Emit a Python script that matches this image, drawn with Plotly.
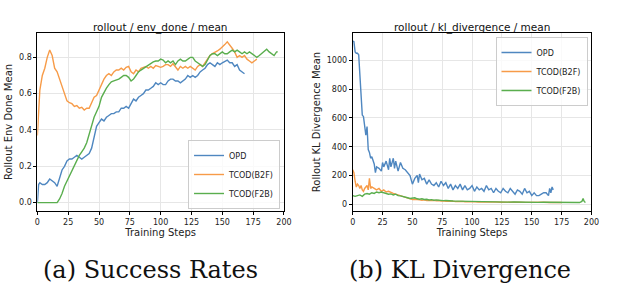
import plotly.graph_objects as go

# ---------------- data: success rate (env_done mean) ----------------
opd_sr_x = [0, 1, 2, 4, 6, 8, 10, 12, 14, 16, 18, 20, 22, 24, 26, 28, 30, 32, 34, 36, 38, 40, 42, 44, 46, 48, 50,
            52, 54, 56, 58, 60, 62, 64, 66, 68, 70, 72, 74, 76, 78, 80, 82, 84, 86, 88, 90, 92, 94, 96, 98, 100,
            102, 104, 106, 108, 110, 112, 114, 116, 118, 120, 122, 124, 126, 128, 130, 132, 134, 136, 138, 140,
            142, 144, 146, 148, 150, 152, 154, 156, 158, 160, 162, 164, 166, 168]
opd_sr_y = [0.0, 0.10, 0.11, 0.10, 0.10, 0.11, 0.13, 0.12, 0.11, 0.09, 0.14, 0.18, 0.20, 0.23, 0.24, 0.24, 0.25,
            0.26, 0.25, 0.24, 0.25, 0.26, 0.27, 0.30, 0.36, 0.42, 0.44, 0.46, 0.45, 0.47, 0.48, 0.49, 0.49, 0.50,
            0.50, 0.52, 0.52, 0.53, 0.52, 0.55, 0.57, 0.56, 0.58, 0.59, 0.60, 0.62, 0.62, 0.63, 0.64, 0.66, 0.65,
            0.66, 0.65, 0.65, 0.67, 0.68, 0.68, 0.67, 0.67, 0.66, 0.67, 0.68, 0.70, 0.69, 0.70, 0.69, 0.70, 0.72,
            0.73, 0.74, 0.76, 0.77, 0.76, 0.75, 0.77, 0.76, 0.77, 0.78, 0.785, 0.77, 0.77, 0.75, 0.76, 0.73,
            0.72, 0.71]

b2f_sr_x = [0, 1, 2, 4, 6, 8, 10, 12, 14, 16, 18, 20, 22, 24, 26, 28, 30, 32, 34, 36, 38, 40, 42, 44, 46, 48, 50,
            52, 54, 56, 58, 60, 62, 64, 66, 68, 70, 72, 74, 76, 78, 80, 82, 84, 86, 88, 90, 92, 94, 96, 98, 100,
            102, 104, 106, 108, 110, 112, 114, 116, 118, 120, 122, 124, 126, 128, 130, 132, 134, 136, 138, 140,
            142, 144, 146, 148, 150, 152, 154, 156, 158, 160, 162, 164, 166, 168, 170, 172, 174, 176, 178]
b2f_sr_y = [0.37, 0.52, 0.62, 0.70, 0.74, 0.80, 0.84, 0.81, 0.74, 0.72, 0.68, 0.65, 0.61, 0.56, 0.55, 0.545, 0.53,
            0.535, 0.52, 0.525, 0.51, 0.52, 0.52, 0.55, 0.58, 0.59, 0.62, 0.65, 0.68, 0.70, 0.71, 0.70, 0.72, 0.73,
            0.73, 0.74, 0.73, 0.745, 0.75, 0.72, 0.71, 0.73, 0.72, 0.74, 0.745, 0.75, 0.74, 0.75, 0.74, 0.755,
            0.75, 0.745, 0.75, 0.76, 0.76, 0.75, 0.765, 0.745, 0.73, 0.75, 0.74, 0.75, 0.74, 0.75, 0.74, 0.73,
            0.75, 0.76, 0.75, 0.77, 0.79, 0.81, 0.82, 0.83, 0.835, 0.845, 0.855, 0.87, 0.885, 0.87, 0.85, 0.83,
            0.80, 0.81, 0.80, 0.81, 0.79, 0.78, 0.77, 0.78, 0.79]

f2b_sr_x = [0, 16, 18, 20, 22, 24, 26, 28, 30, 32, 34, 36, 38, 40, 42, 44, 46, 48, 50, 52, 54, 56, 58, 60, 62,
            64, 66, 68, 70, 72, 74, 76, 78, 80, 82, 84, 86, 88, 90, 92, 94, 96, 98, 100, 102, 104, 106, 108, 110,
            112, 114, 116, 118, 120, 122, 124, 126, 128, 130, 132, 134, 136, 138, 140, 142, 144, 146, 148, 150,
            152, 154, 156, 158, 160, 162, 164, 166, 168, 170, 172, 174, 176, 178, 180, 182, 184, 186, 188, 190,
            192, 194, 195]
f2b_sr_y = [0.0, 0.0, 0.02, 0.05, 0.09, 0.12, 0.14, 0.17, 0.20, 0.23, 0.26, 0.28, 0.30, 0.33, 0.38, 0.43, 0.47,
            0.50, 0.53, 0.58, 0.61, 0.63, 0.65, 0.665, 0.67, 0.675, 0.68, 0.69, 0.70, 0.70, 0.69, 0.67, 0.68,
            0.70, 0.72, 0.73, 0.74, 0.75, 0.76, 0.77, 0.775, 0.78, 0.78, 0.79, 0.785, 0.77, 0.78, 0.77, 0.78,
            0.76, 0.78, 0.79, 0.78, 0.78, 0.79, 0.80, 0.80, 0.78, 0.77, 0.76, 0.75, 0.76, 0.79, 0.81, 0.82, 0.82,
            0.81, 0.82, 0.83, 0.82, 0.82, 0.83, 0.84, 0.83, 0.84, 0.83, 0.82, 0.83, 0.82, 0.83, 0.82, 0.81, 0.80,
            0.81, 0.82, 0.83, 0.845, 0.83, 0.82, 0.81, 0.83, 0.83]

# ---------------- data: KL divergence mean ----------------
opd_kl_x = [0, 1, 2, 3, 4, 5, 6, 7, 8, 9, 10, 11, 12, 13, 14, 15, 16, 17, 18, 19, 20, 22, 24, 25, 26, 28, 30, 31,
            32, 34, 35, 36, 38, 40, 42, 44, 46, 48, 50, 52, 54, 55, 56, 58, 60, 62, 64, 66, 68, 70, 72, 74, 76,
            78, 80, 82, 84, 86, 88, 90, 92, 94, 96, 98, 100, 102, 104, 106, 108, 110, 112, 114, 116, 118, 120,
            122, 124, 126, 128, 130, 132, 134, 136, 138, 140, 142, 144, 146, 148, 150, 152, 154, 156, 158, 160,
            162, 164, 165, 166, 167, 168]
opd_kl_y = [1135, 1130, 1060, 1050, 1050, 1040, 900, 750, 620, 610, 550, 480, 540, 380, 360, 320, 330, 300, 280,
            220, 260, 250, 230, 290, 260, 300, 240, 320, 260, 320, 250, 300, 230, 290, 250, 240, 220, 200, 140,
            180, 200, 150, 210, 170, 180, 140, 170, 140, 130, 150, 120, 160, 130, 150, 110, 140, 100, 130, 110,
            140, 100, 130, 100, 110, 130, 90, 120, 100, 110, 90, 130, 100, 110, 80, 110, 90, 80, 110, 90, 80,
            110, 90, 70, 100, 90, 70, 110, 80, 90, 60, 80, 60, 60, 70, 80, 80, 60, 110, 80, 120, 100]

b2f_kl_x = [0, 1, 2, 3, 4, 5, 6, 7, 8, 9, 10, 11, 12, 13, 14, 15, 16, 18, 20, 22, 24, 26, 28, 30, 32, 34, 36, 38,
            40, 42, 44, 46, 48, 50, 52, 54, 56, 58, 60, 62, 64, 66, 68, 70, 72, 74, 76, 78, 80, 82, 84, 86, 88,
            90, 92, 94, 96, 98, 100, 105, 110, 115, 120, 125, 130, 135, 140, 145, 150, 155, 160, 165, 170, 175]
b2f_kl_y = [240, 220, 160, 120, 140, 130, 110, 130, 100, 90, 110, 120, 130, 100, 180, 110, 120, 110, 100, 110,
            90, 100, 85, 90, 80, 75, 70, 65, 60, 55, 50, 45, 38, 32, 35, 30, 30, 28, 30, 26, 28, 25, 27, 24, 26,
            22, 24, 20, 22, 20, 22, 18, 20, 18, 20, 17, 19, 16, 18, 16, 17, 15, 16, 14, 16, 14, 15, 13, 15, 13,
            14, 12, 13, 12]

f2b_kl_x = [0, 2, 4, 6, 8, 10, 12, 14, 16, 18, 20, 22, 24, 26, 28, 30, 32, 34, 36, 38, 40, 42, 44, 46, 48, 50, 52,
            54, 56, 58, 60, 62, 64, 66, 68, 70, 72, 74, 76, 78, 80, 84, 88, 92, 96, 100, 105, 110, 115, 120, 125,
            130, 135, 140, 145, 150, 155, 160, 165, 170, 175, 180, 185, 190, 192, 193, 194, 195]
f2b_kl_y = [60, 55, 60, 65, 55, 70, 75, 70, 80, 75, 85, 80, 85, 80, 75, 70, 72, 65, 70, 60, 58, 55, 52, 45, 40,
            40, 45, 38, 35, 38, 33, 35, 30, 32, 28, 30, 27, 28, 25, 26, 24, 23, 22, 21, 22, 20, 19, 18, 18, 16,
            17, 15, 16, 14, 15, 14, 13, 14, 13, 12, 13, 12, 13, 12, 20, 40, 18, 12]

series_names = ["OPD", "TCOD(B2F)", "TCOD(F2B)"]
colors = ["#4f87c0", "#f79b48", "#5aae4e"]
x_ticks = [0, 25, 50, 75, 100, 125, 150, 175, 200]

fig = go.Figure()

sr = [(opd_sr_x, opd_sr_y), (b2f_sr_x, b2f_sr_y), (f2b_sr_x, f2b_sr_y)]
kl = [(opd_kl_x, opd_kl_y), (b2f_kl_x, b2f_kl_y), (f2b_kl_x, f2b_kl_y)]

for (xs, ys), name, c in zip(sr, series_names, colors):
    fig.add_trace(go.Scatter(x=xs, y=ys, mode="lines", name=name, line=dict(color=c, width=1.4),
                             xaxis="x", yaxis="y", legend="legend"))
for (xs, ys), name, c in zip(kl, series_names, colors):
    fig.add_trace(go.Scatter(x=xs, y=ys, mode="lines", name=name, line=dict(color=c, width=1.4),
                             xaxis="x2", yaxis="y2", legend="legend2"))

W, H = 624, 298
axis_common = dict(showline=True, linecolor="black", linewidth=1, mirror=True, ticks="outside", ticklen=3,
                   tickcolor="black", tickfont=dict(family="DejaVu Sans", size=8, color="#222"),
                   showgrid=True, gridcolor="#e6e6e6", gridwidth=1, zeroline=False)

fig.update_layout(
    width=W, height=H, margin=dict(l=0, r=0, t=0, b=0),
    paper_bgcolor="white", plot_bgcolor="white",
    font=dict(family="DejaVu Sans", color="#222"),
    xaxis=dict(domain=[35 / W, 286 / W], range=[0, 200], tickvals=x_ticks, anchor="y",
               title=dict(text="Training Steps", font=dict(size=10), standoff=0), **axis_common),
    yaxis=dict(domain=[1 - 211 / H, 1 - 33 / H], range=[-0.046, 0.934], tickvals=[0, 0.2, 0.4, 0.6, 0.8],
               tickformat=".1f", anchor="x",
               title=dict(text="Rollout Env Done Mean", font=dict(size=10), standoff=4), **axis_common),
    xaxis2=dict(domain=[356 / W, 599 / W], range=[0, 200], tickvals=x_ticks, anchor="y2",
                title=dict(text="Training Steps", font=dict(size=10), standoff=0), **axis_common),
    yaxis2=dict(domain=[1 - 211 / H, 1 - 33 / H], range=[-47, 1191], tickvals=[0, 200, 400, 600, 800, 1000],
                anchor="x2",
                title=dict(text="Rollout KL Divergence Mean", font=dict(size=10), standoff=4), **axis_common),
    legend=dict(x=282 / W, y=1 - 209 / H, xanchor="right", yanchor="bottom", bgcolor="rgba(255,255,255,0.8)",
                bordercolor="#cccccc", borderwidth=1, font=dict(size=8, family="DejaVu Sans"),
                itemwidth=30, tracegroupgap=0),
    legend2=dict(x=595 / W, y=1 - 37 / H, xanchor="right", yanchor="top", bgcolor="rgba(255,255,255,0.8)",
                 bordercolor="#cccccc", borderwidth=1, font=dict(size=8, family="DejaVu Sans"),
                 itemwidth=30, tracegroupgap=0),
    showlegend=True,
)

annots = [
    dict(text="rollout / env_done / mean", x=(35 + 286) / 2 / W, y=1 - 27 / H, size=10.5, family="DejaVu Sans"),
    dict(text="rollout / kl_divergence / mean", x=(356 + 599) / 2 / W, y=1 - 27 / H, size=10.5,
         family="DejaVu Sans"),
    dict(text="(a) Success Rates", x=150 / W, y=1 - 270 / H, size=24, family="DejaVu Serif"),
    dict(text="(b) KL Divergence", x=465 / W, y=1 - 270 / H, size=24, family="DejaVu Serif"),
]
for a in annots:
    fig.add_annotation(text=a["text"], x=a["x"], y=a["y"], xref="paper", yref="paper", showarrow=False,
                       xanchor="center", yanchor="middle", font=dict(size=a["size"], family=a["family"],
                                                                      color="#111"))

fig.write_html("out.html")
